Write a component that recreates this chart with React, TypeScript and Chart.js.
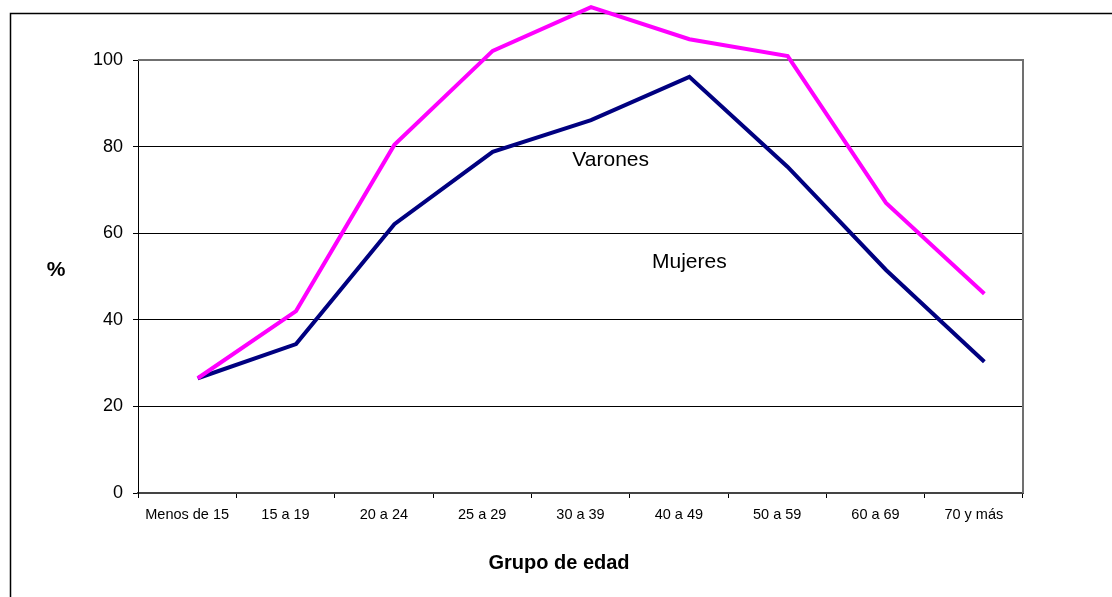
import React, { useEffect, useRef } from "react";
import { Chart, registerables } from "chart.js";

Chart.register(...registerables);

const categories: string[] = [
  "Menos de 15",
  "15 a 19",
  "20 a 24",
  "25 a 29",
  "30 a 39",
  "40 a 49",
  "50 a 59",
  "60 a 69",
  "70 y más",
];

const varones: number[] = [26.5, 34.4, 62.1, 78.8, 86.1, 96.1, 75.3, 51.5, 30.3];
const mujeres: number[] = [26.5, 42.0, 80.4, 102.1, 112.2, 104.8, 100.9, 67.0, 46.0];

const yTickValues: number[] = [0, 20, 40, 60, 80, 100];

const FONT = "'Liberation Sans', Arial, sans-serif";

// text annotations placed in data units (index on hidden linear axis, value on y axis)
const notes = [
  { text: "Varones", idx: 4.2, val: 76.9 },
  { text: "Mujeres", idx: 5.0, val: 53.3 },
];

const framePlugin = {
  id: "framePlugin",
  beforeDraw(chart: any) {
    const ctx = chart.ctx;
    ctx.save();
    ctx.fillStyle = "#ffffff";
    ctx.fillRect(0, 0, chart.width, chart.height);
    ctx.strokeStyle = "#000000";
    ctx.lineWidth = 1.5;
    ctx.strokeRect(10.5, 13.5, chart.width + 20, chart.height + 20);
    ctx.restore();
  },
  beforeDatasetsDraw(chart: any) {
    const { ctx, chartArea } = chart;
    ctx.save();
    ctx.strokeStyle = "#707070";
    ctx.lineWidth = 2;
    ctx.beginPath();
    ctx.moveTo(chartArea.left, chartArea.top);
    ctx.lineTo(chartArea.right, chartArea.top);
    ctx.lineTo(chartArea.right, chartArea.bottom);
    ctx.stroke();
    ctx.restore();
  },
  afterDraw(chart: any) {
    const { ctx, chartArea } = chart;
    const xs = chart.scales.xd;
    const ys = chart.scales.y;
    ctx.save();
    ctx.fillStyle = "#000000";
    ctx.textAlign = "center";
    ctx.textBaseline = "middle";
    ctx.font = `21px ${FONT}`;
    notes.forEach((n) => {
      ctx.fillText(n.text, xs.getPixelForValue(n.idx), ys.getPixelForValue(n.val));
    });
    ctx.font = `bold 21px ${FONT}`;
    ctx.fillText("%", 56, (chartArea.top + chartArea.bottom) / 2 - 6);
    ctx.font = `bold 20px ${FONT}`;
    ctx.fillText("Grupo de edad", 559, 563);
    ctx.restore();
  },
};

export default function App() {
  const ref = useRef<HTMLCanvasElement | null>(null);

  useEffect(() => {
    if (!ref.current) return;
    const chart = new Chart(ref.current, {
      type: "line",
      data: {
        labels: categories,
        datasets: [
          {
            label: "Mujeres",
            data: mujeres.map((v, i) => ({ x: i, y: v })),
            xAxisID: "xd",
            yAxisID: "y",
            borderColor: "#FF00FF",
            backgroundColor: "#FF00FF",
            borderWidth: 4,
            pointRadius: 0,
            tension: 0,
            clip: false as any,
          },
          {
            label: "Varones",
            data: varones.map((v, i) => ({ x: i, y: v })),
            xAxisID: "xd",
            yAxisID: "y",
            borderColor: "#000080",
            backgroundColor: "#000080",
            borderWidth: 4,
            pointRadius: 0,
            tension: 0,
            clip: false as any,
          },
        ],
      },
      options: {
        responsive: false,
        animation: false,
        devicePixelRatio: 1,
        layout: { padding: { left: 0, top: 60, right: 89, bottom: 0 } },
        plugins: {
          legend: { display: false },
          tooltip: { enabled: false },
          title: { display: false },
        },
        scales: {
          x: {
            type: "category",
            position: "bottom",
            offset: true,
            grid: {
              offset: true,
              drawOnChartArea: false,
              drawTicks: true,
              tickLength: 5,
              tickColor: "#000000",
              color: "#000000",
            },
            border: { display: true, color: "#444444", width: 2 },
            ticks: {
              color: "#000000",
              font: { family: FONT, size: 14.5 },
              padding: 8,
              maxRotation: 0,
              autoSkip: false,
            },
            afterFit(scale: any) {
              scale.height = 104;
            },
          },
          xd: {
            type: "linear",
            position: "bottom",
            display: false,
            min: -0.607,
            max: 8.393,
          },
          y: {
            type: "linear",
            min: 0,
            max: 100,
            afterBuildTicks(scale: any) {
              scale.ticks = yTickValues.map((v) => ({ value: v }));
            },
            grid: {
              color: (c: any) =>
                c.tick && c.tick.value > 0 && c.tick.value < 100 ? "#000000" : "rgba(0,0,0,0)",
              tickColor: "#000000",
              lineWidth: 1,
              tickLength: 5,
              drawTicks: true,
            },
            border: { display: true, color: "#000000", width: 1 },
            ticks: {
              color: "#000000",
              font: { family: FONT, size: 18 },
              padding: 10,
            },
            afterFit(scale: any) {
              scale.width = 138;
            },
          },
        },
      },
      plugins: [framePlugin],
    });
    return () => chart.destroy();
  }, []);

  return (
    <canvas
      ref={ref}
      width={1112}
      height={597}
      style={{ position: "absolute", left: 0, top: 0, display: "block" }}
    />
  );
}
